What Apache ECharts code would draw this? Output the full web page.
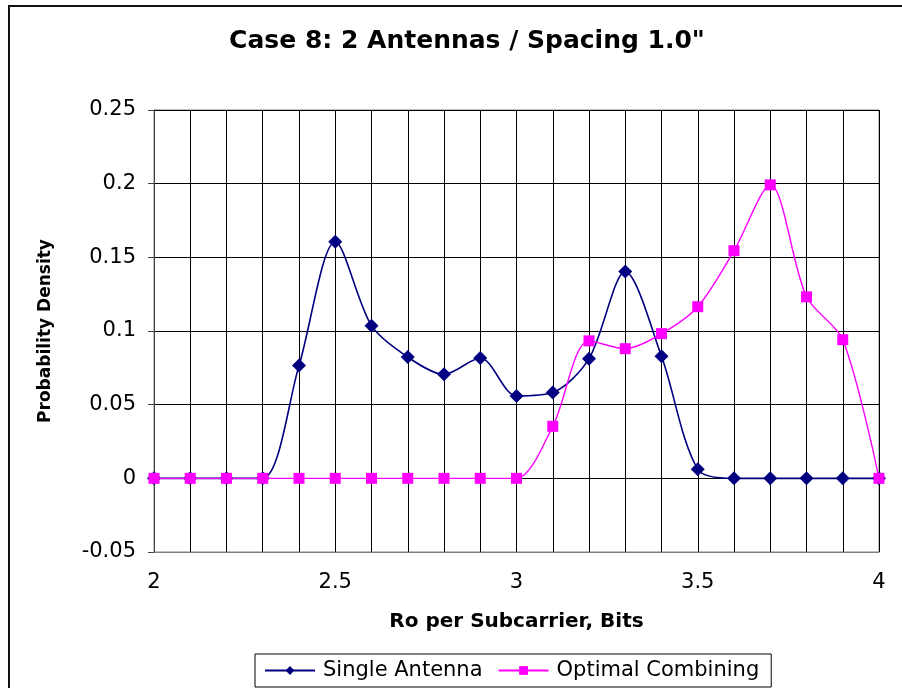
<!DOCTYPE html>
<html>
<head>
<meta charset="utf-8">
<script src="https://cdn.jsdelivr.net/npm/echarts@6/dist/echarts.min.js"></script>
<style>
  html, body { margin: 0; padding: 0; background: #fff; }
  #chart { width: 902px; height: 688px; }
</style>
</head>
<body>
<div id="chart"></div>
<script>
// ---- data ----
const titleText = 'Case 8: 2 Antennas / Spacing 1.0"';
const xAxisName = 'Ro per Subcarrier, Bits';
const yAxisName = 'Probability Density';
const seriesNames = ['Single Antenna', 'Optimal Combining'];
const xValues = [2.0, 2.1, 2.2, 2.3, 2.4, 2.5, 2.6, 2.7, 2.8, 2.9, 3.0,
                 3.1, 3.2, 3.3, 3.4, 3.5, 3.6, 3.7, 3.8, 3.9, 4.0];
const singleAntenna = [0, 0, 0, 0, 0.0765, 0.1606, 0.1036, 0.0823, 0.0706, 0.0817, 0.0559,
                       0.0582, 0.0812, 0.1403, 0.0828, 0.0061, 0, 0, 0, 0, 0];
const optimalCombining = [0, 0, 0, 0, 0, 0, 0, 0, 0, 0, 0,
                          0.0353, 0.0933, 0.0880, 0.0982, 0.1165, 0.1545, 0.1992, 0.1232, 0.0941, 0];
const xMin = 2, xMax = 4, xStep = 0.1;
const yMin = -0.05, yMax = 0.25, yStep = 0.05;

const FONT = 'DejaVu Sans';
const pairs = (ys) => xValues.map((x, i) => [x, ys[i]]);

const chart = echarts.init(document.getElementById('chart'), null, { renderer: 'canvas' });
chart.setOption({
  animation: false,
  backgroundColor: '#ffffff',
  title: {
    text: titleText,
    left: 467,
    top: 29,
    padding: 0,
    textAlign: 'center',
    textStyle: { fontFamily: FONT, fontWeight: 'bold', fontSize: 25, color: '#000' }
  },
  graphic: [{
    type: 'rect',
    shape: { x: 9, y: 6, width: 1100, height: 1100 },
    style: { fill: null, stroke: '#111', lineWidth: 2 },
    silent: true, z: 100
  }],
  legend: {
    data: seriesNames,
    left: 255,
    top: 654,
    orient: 'horizontal',
    padding: [6, 12, 6, 9],
    itemGap: 15,
    itemWidth: 50,
    itemHeight: 11,
    borderColor: '#000',
    borderWidth: 1,
    textStyle: { fontFamily: FONT, fontSize: 21, color: '#000', padding: [0, 0, 0, 3] }
  },
  grid: {
    left: 154, right: 23, top: 110, bottom: 136,
    show: true, borderColor: '#808080', borderWidth: 1,
    containLabel: false, outerBoundsMode: 'none'
  },
  xAxis: {
    type: 'value',
    min: xMin, max: xMax, interval: xStep,
    name: xAxisName,
    nameLocation: 'middle',
    nameGap: 60,
    nameTextStyle: { fontFamily: FONT, fontWeight: 'bold', fontSize: 20, color: '#000' },
    axisLine: { show: true, onZero: false, lineStyle: { color: '#808080', width: 1 } },
    axisTick: { show: false },
    axisLabel: {
      margin: 20,
      fontFamily: FONT, fontSize: 21, color: '#000',
      formatter: function (v) {
        if (Math.abs(v * 2 - Math.round(v * 2)) < 1e-6) {
          return String(Math.round(v * 2) / 2);
        }
        return '';
      }
    },
    splitLine: { show: true, lineStyle: { color: '#000', width: 1 } }
  },
  yAxis: {
    type: 'value',
    min: yMin, max: yMax, interval: yStep,
    name: yAxisName,
    nameLocation: 'middle',
    nameGap: 100,
    nameRotate: 90,
    nameTextStyle: { fontFamily: FONT, fontWeight: 'bold', fontSize: 17, color: '#000' },
    axisLine: { show: true, lineStyle: { color: '#404040', width: 1 } },
    axisTick: { show: true, length: 6, lineStyle: { color: '#404040' } },
    axisLabel: {
      margin: 18,
      fontFamily: FONT, fontSize: 21, color: '#000',
      formatter: function (v) { return String(Math.round(v * 100) / 100); }
    },
    splitLine: { show: true, lineStyle: { color: '#000', width: 1 } }
  },
  series: [
    {
      name: seriesNames[0],
      type: 'line',
      data: pairs(singleAntenna),
      smooth: 0.3,
      symbol: 'diamond',
      symbolSize: [14, 14],
      lineStyle: { color: '#000080', width: 1.6 },
      itemStyle: { color: '#000080' },
      z: 3
    },
    {
      name: seriesNames[1],
      type: 'line',
      data: pairs(optimalCombining),
      smooth: 0.3,
      symbol: 'rect',
      symbolSize: [11, 11],
      lineStyle: { color: '#ff00ff', width: 1.4 },
      itemStyle: { color: '#ff00ff' },
      z: 4
    }
  ]
});
</script>
</body>
</html>
